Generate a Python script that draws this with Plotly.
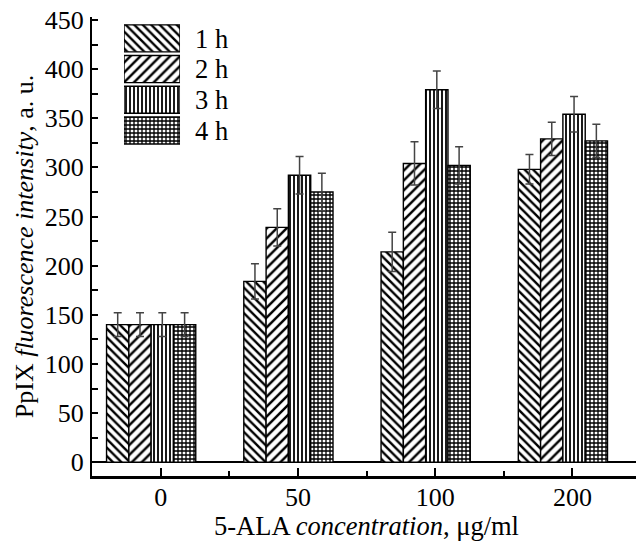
import plotly.graph_objects as go

categories = ["0", "50", "100", "200"]
series = ["1 h", "2 h", "3 h", "4 h"]
values = {
    "1 h": [140, 184, 214, 298],
    "2 h": [140, 239, 304, 329],
    "3 h": [140, 292, 379, 354],
    "4 h": [140, 275, 302, 327],
}
errors = {
    "1 h": [12, 18, 20, 15],
    "2 h": [12, 19, 22, 17],
    "3 h": [12, 19, 19, 18],
    "4 h": [12, 19, 19, 17],
}
patterns = {"1 h": "\\", "2 h": "/", "3 h": "|", "4 h": "+"}
pattern_size = {"1 h": 6, "2 h": 7, "3 h": 4, "4 h": 4}
pattern_sol = {"1 h": 0.4, "2 h": 0.35, "3 h": 0.45, "4 h": 0.55}

FONT = '"Liberation Serif", "Times New Roman", Times, serif'
xpos = list(range(len(categories)))
bar_w = 0.1625
group_start = -0.394


def marker_for(s):
    return dict(color="white", line=dict(color="black", width=1.4),
                pattern=dict(shape=patterns[s], fgcolor="black", bgcolor="white",
                             fgopacity=1, size=pattern_size[s], solidity=pattern_sol[s],
                             fillmode="overlay"))


fig = go.Figure()
for i, s in enumerate(series):
    fig.add_trace(go.Bar(
        x=xpos, y=values[s], name=s, showlegend=False,
        width=bar_w, offset=group_start + i * bar_w,
        marker=marker_for(s),
        error_y=dict(type="data", array=errors[s], visible=True,
                     color="#444", thickness=1.5, width=4),
    ))

# legend swatches drawn as bars on an auxiliary axis
for s in series:
    fig.add_trace(go.Bar(
        x=[1], y=[s], orientation="h", xaxis="x2", yaxis="y2", showlegend=False,
        marker=marker_for(s), hoverinfo="skip",
    ))

fig.update_layout(
    width=636, height=533,
    margin=dict(l=84, r=3, t=9, b=65, autoexpand=False),
    paper_bgcolor="white", plot_bgcolor="white",
    barmode="overlay", bargap=0.12,
    font=dict(family=FONT, size=26, color="black"),
    xaxis=dict(
        range=[-0.5, 3.5], tickmode="array", tickvals=xpos, ticktext=categories,
        ticks="inside", ticklen=8, tickwidth=1.5, tickcolor="black",
        minor=dict(tick0=0.5, dtick=1, ticks="inside", ticklen=5, tickwidth=1.5, tickcolor="black"),
        showline=True, linecolor="black", linewidth=2.5, showgrid=False, zeroline=False,
        ticklabelstandoff=-4, ticklabeloverflow="allow", automargin=False, tickfont=dict(size=26),
        title=dict(text="5-ALA <i>concentration</i>, μg/ml", font=dict(size=26.5), standoff=14),
    ),
    yaxis=dict(
        range=[-14, 453], dtick=50, tick0=0,
        ticks="inside", ticklen=6, tickwidth=1.5, tickcolor="black",
        minor=dict(dtick=25, ticks="inside", ticklen=6, tickwidth=1.5, tickcolor="black"),
        showline=True, linecolor="black", linewidth=2, showgrid=False,
        zeroline=True, zerolinecolor="black", zerolinewidth=1.5,
        ticklabelstandoff=1, ticklabeloverflow="allow", automargin=False, tickfont=dict(size=26),
        title=dict(text="PpIX <i>fluorescence intensity</i>, a. u.", font=dict(size=26), standoff=4),
    ),
    xaxis2=dict(domain=[0.0583, 0.1603], anchor="y2", range=[0, 1],
                visible=False, fixedrange=True),
    yaxis2=dict(domain=[0.7193, 0.9869], anchor="x2", side="right",
                tickmode="array", tickvals=series, ticktext=series,
                categoryorder="array", categoryarray=series[::-1],
                showline=False, showgrid=False, zeroline=False, ticks="",
                ticklabelstandoff=14, ticklabeloverflow="allow", automargin=False,
                tickfont=dict(size=26.5)),
)

fig.write_html("out.html")
